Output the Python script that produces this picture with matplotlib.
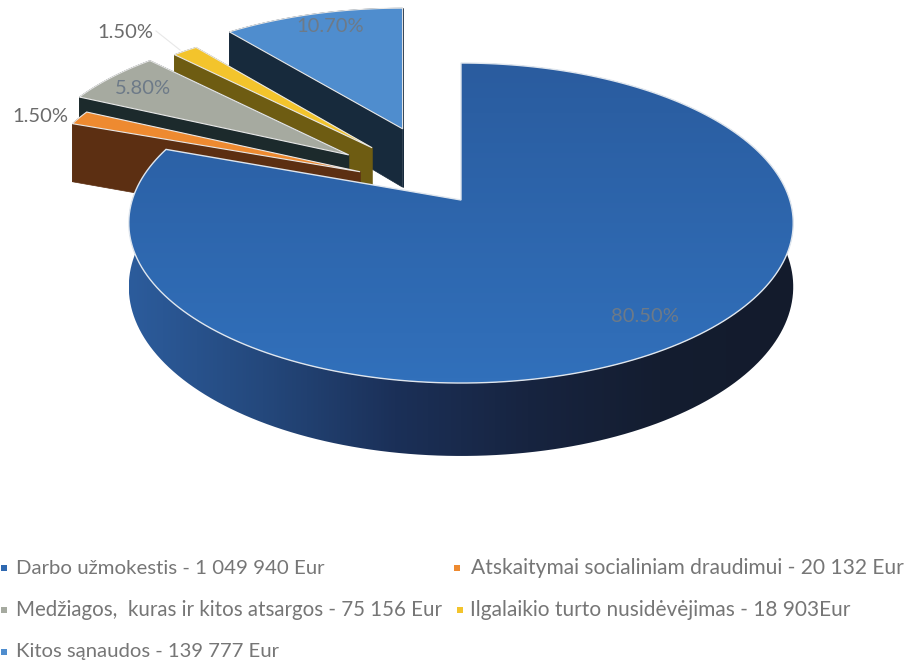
import numpy as np
import matplotlib
matplotlib.use("Agg")
import matplotlib.pyplot as plt
from matplotlib.colors import LinearSegmentedColormap
from matplotlib.patches import Polygon

plt.rcParams["font.family"] = ["Lato", "DejaVu Sans"]

# slices clockwise from 12 o'clock
shares = [80.5, 1.5, 5.8, 1.5, 10.7]
share_labels = ["80.50%", "1.50%", "5.80%", "1.50%", "10.70%"]
legend_labels = [
    "Darbo užmokestis - 1 049 940 Eur",
    "Atskaitymai socialiniam draudimui - 20 132 Eur",
    "Medžiagos,  kuras ir kitos atsargos - 75 156 Eur",
    "Ilgalaikio turto nusidėvėjimas - 18 903Eur",
    "Kitos sąnaudos - 139 777 Eur",
]
shift_u = [0.0, -0.315, -0.356, -0.284, -0.19]
shift_v = [0.0, 0.185, 0.30, 0.35, 0.486]
top_colors = ["#2f68b0", "#ee8a30", "#a6aaa0", "#f3c42c", "#4f8dce"]
side_colors = ["#1b2a44", "#5c2f12", "#1c2a2c", "#6e5c12", "#172a3c"]

label_pos = [(645, 317), (40, 117), (143, 88), (125, 32), (330, 26)]
legend_pos = [(4, 568), (457, 568), (4, 610), (460, 610), (4, 652)]
legend_text_x = [16, 471, 16, 470, 16]
legend_sizes = [14.7, 15.1, 14.8, 15.0, 14.6]

# perspective of the pie plane, fitted to the picture in pixels
CX, CY = 461, 200
FX, FY, DEPTH, HEIGHT = 2285, 1089, 6.95, 434


def project(u, v, ou=0.0, ov=0.0, drop=False):
    # each slice converges towards its own tip, as in the spreadsheet's 3D pie
    w = DEPTH + v + ov
    x = CX + FX * ou / (DEPTH + ov) + FX * u / w
    y = CY - FY * (v + ov) / w
    if drop:
        y = y + HEIGHT / w
    return np.column_stack([x, y])


fig = plt.figure(figsize=(9.08, 6.64), dpi=100)
ax = fig.add_axes([0, 0, 1, 1])

angles = np.concatenate([[0], np.cumsum(shares) * 3.6])
side_cmap = LinearSegmentedColormap.from_list(
    "side", ["#2c5c9c", "#24487c", "#1b3058", "#172440", "#141d30", "#131b2c"]
)
grad_cmap = LinearSegmentedColormap.from_list("top", ["#2a5c9f", "#3170bb"])

# far slices first so nearer ones paint over them
for i in [4, 3, 2, 1, 0]:
    t = np.radians(np.linspace(angles[i], angles[i + 1], 200))
    u, v = np.sin(t), np.cos(t)
    ou, ov = shift_u[i], shift_v[i]
    rim_top = project(u, v, ou, ov)
    rim_low = project(u, v, ou, ov, drop=True)
    tip_top = project(np.zeros(1), np.zeros(1), ou, ov)
    tip_low = project(np.zeros(1), np.zeros(1), ou, ov, drop=True)
    top = np.vstack([tip_top, rim_top])
    z = 6 - i
    if i:
        ax.add_patch(Polygon(np.vstack([rim_top, rim_low[::-1]]), fc=side_colors[i], ec=side_colors[i], lw=0.5, zorder=z))
        for rim_t, rim_l in [(rim_top[0], rim_low[0]), (rim_top[-1], rim_low[-1])]:
            wall = np.vstack([tip_top, rim_t, rim_l, tip_low])
            ax.add_patch(Polygon(wall, fc=side_colors[i], ec=side_colors[i], lw=0.5, zorder=z))
        ax.add_patch(Polygon(top, fc=top_colors[i], ec="#e8e8e8", lw=0.8, zorder=z))
    else:
        # the big slice has a shaded wall and a soft gradient on top
        x_min, x_max = rim_top[:, 0].min(), rim_top[:, 0].max()
        wall = np.vstack([rim_top, rim_low[::-1]])
        wall_img = ax.imshow(
            np.linspace(0, 1, 256).reshape(1, -1),
            extent=(x_min, x_max, wall[:, 1].max(), wall[:, 1].min()),
            cmap=side_cmap,
            aspect="auto",
            zorder=8,
        )
        wall_img.set_clip_path(Polygon(wall, transform=ax.transData))
        top_img = ax.imshow(
            np.linspace(0, 1, 64).reshape(-1, 1),
            extent=(x_min, x_max, top[:, 1].max(), top[:, 1].min()),
            cmap=grad_cmap,
            aspect="auto",
            zorder=9,
        )
        top_img.set_clip_path(Polygon(top, transform=ax.transData))
        ax.add_patch(Polygon(top, fc="none", ec="#dfe6ee", lw=1.0, zorder=10))

for i, (x, y) in enumerate(label_pos):
    on_slice = i in (0, 2, 4)
    ax.text(x, y, share_labels[i], ha="center", va="center", fontsize=14.5, zorder=12,
            color="#6d7a88" if on_slice else "#6b6b6b")

# faint leader to the yellow slice
ax.plot([156, 180], [31, 50], color="#e8e8e8", lw=0.8, zorder=1)

for i, (x, y) in enumerate(legend_pos):
    ax.scatter([x], [y], marker="s", s=14, color=top_colors[i], zorder=12, linewidths=0)
    ax.text(legend_text_x[i], y, legend_labels[i], ha="left", va="center", fontsize=legend_sizes[i], color="#767676", zorder=12)

ax.set_xlim(0, 908)
ax.set_ylim(664, 0)
ax.axis("off")

fig.savefig("out.png", dpi=100)
